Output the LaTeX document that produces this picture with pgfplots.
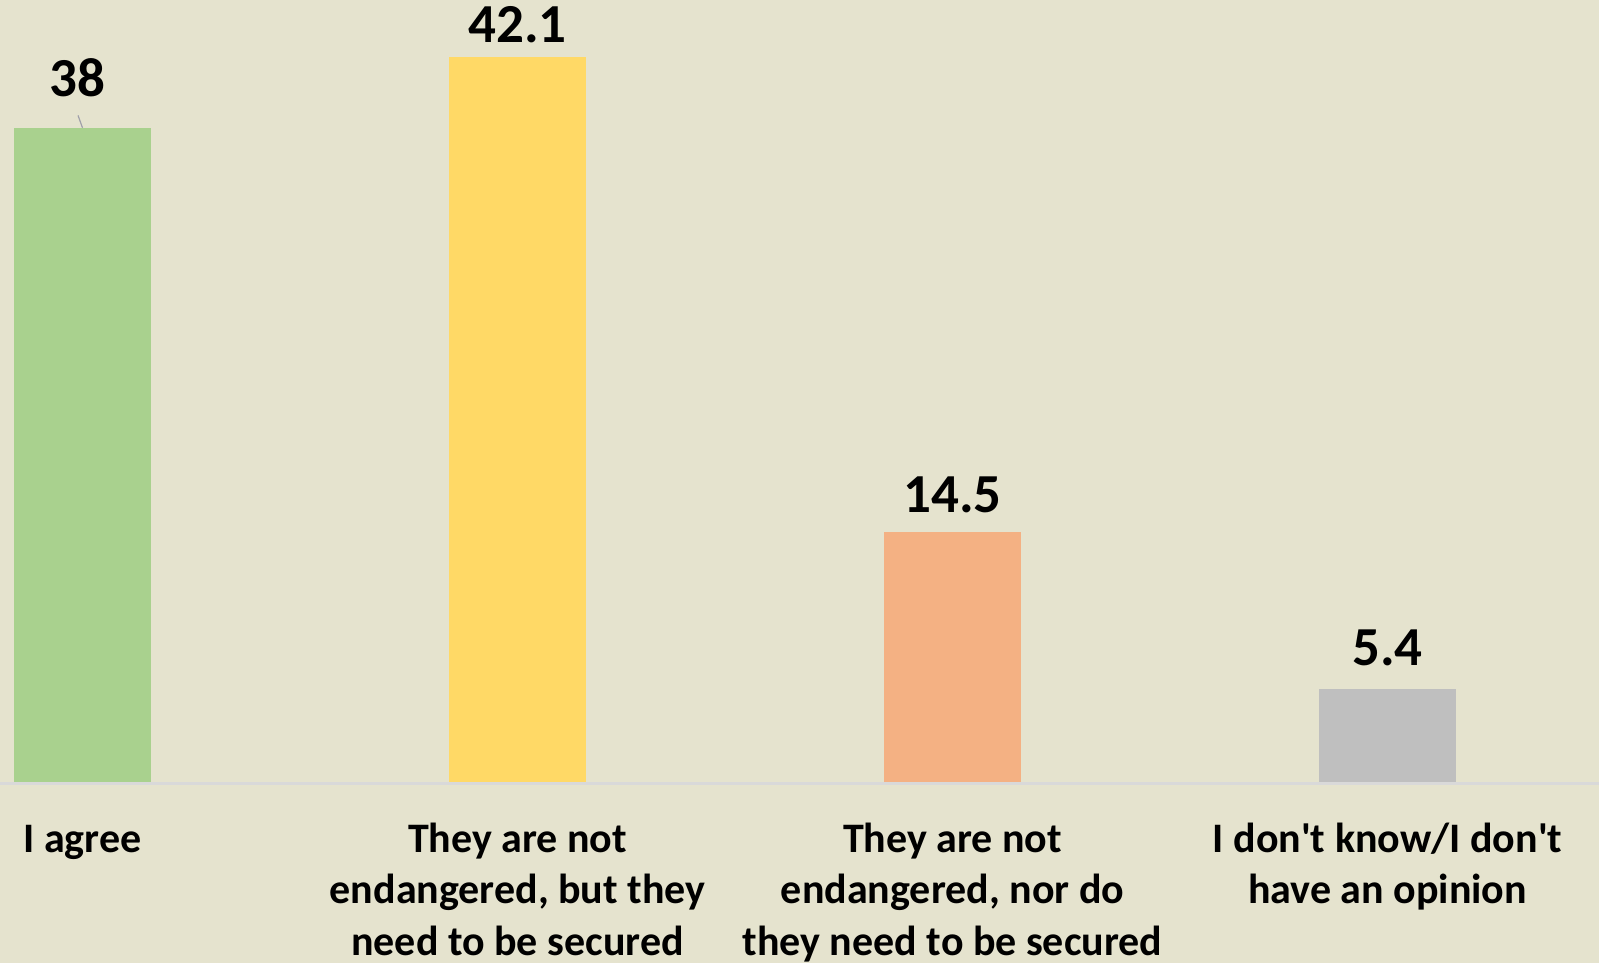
\documentclass[border=0pt]{standalone}
\usepackage{pgfplots}
\pgfplotsset{compat=1.18}
\usepackage{fontspec}
\setmainfont{Carlito}
\definecolor{bg}{RGB}{229,227,206}
\definecolor{cgreen}{RGB}{169,209,142}
\definecolor{cyellow}{RGB}{255,217,102}
\definecolor{corange}{RGB}{244,177,131}
\definecolor{cgray}{RGB}{191,191,191}
\definecolor{cbase}{RGB}{217,217,217}
\definecolor{cleader}{RGB}{160,160,170}
\begin{document}
\begin{tikzpicture}
\begin{axis}[
  at={(0,0)}, anchor=south west,
  scale only axis, width=799.5pt, height=481.5pt,
  xmin=-0.18966, xmax=3.48621, ymin=-10.514, ymax=45.425,
  axis background/.style={fill=bg},
  axis x line*=middle,
  axis y line=none,
  hide obscured x ticks=false,
  axis line style={draw=none},
  tick style={draw=none},
  ytick=\empty,
  xtick={0,1,2,3},
  xticklabels={{\strut I agree},
    {\strut They are not\\endangered, but they\\need to be secured},
    {\strut They are not\\endangered, nor do\\they need to be secured},
    {\strut I don\textquotesingle t know/I don\textquotesingle t\\have an opinion}},
  xticklabel style={font=\bfseries\fontsize{21}{25.6}\selectfont, align=center, anchor=north, inner sep=0pt, yshift=-13pt},
  ybar, bar width=68.5pt, bar shift=0pt,
  /pgf/number format/assume math mode=true,
  nodes near coords,
  nodes near coords style={font=\bfseries\fontsize{27.5}{30}\selectfont, inner sep=0pt, anchor=south, text=black},
  clip=false,
]
\draw[cbase, line width=1.5pt] (axis cs:-0.18966,-0.087) -- (axis cs:3.48621,-0.087);
\addplot[fill=cgreen, draw=none, nodes near coords style={yshift=15.3pt, xshift=-2.5pt}] coordinates {(0,38)};
\addplot[fill=cyellow, draw=none, nodes near coords style={yshift=7pt}] coordinates {(1,42.1)};
\addplot[fill=corange, draw=none, nodes near coords style={yshift=9.35pt}] coordinates {(2,14.5)};
\addplot[fill=cgray, draw=none, nodes near coords style={yshift=11.15pt}] coordinates {(3,5.4)};
\draw[cleader, line width=0.6pt] (axis cs:-0.0103,38.72) -- (axis cs:0,38);
\end{axis}
\pgfresetboundingbox
\path[use as bounding box] (0,0) rectangle (799.5pt,481.5pt);
\end{tikzpicture}
\end{document}
